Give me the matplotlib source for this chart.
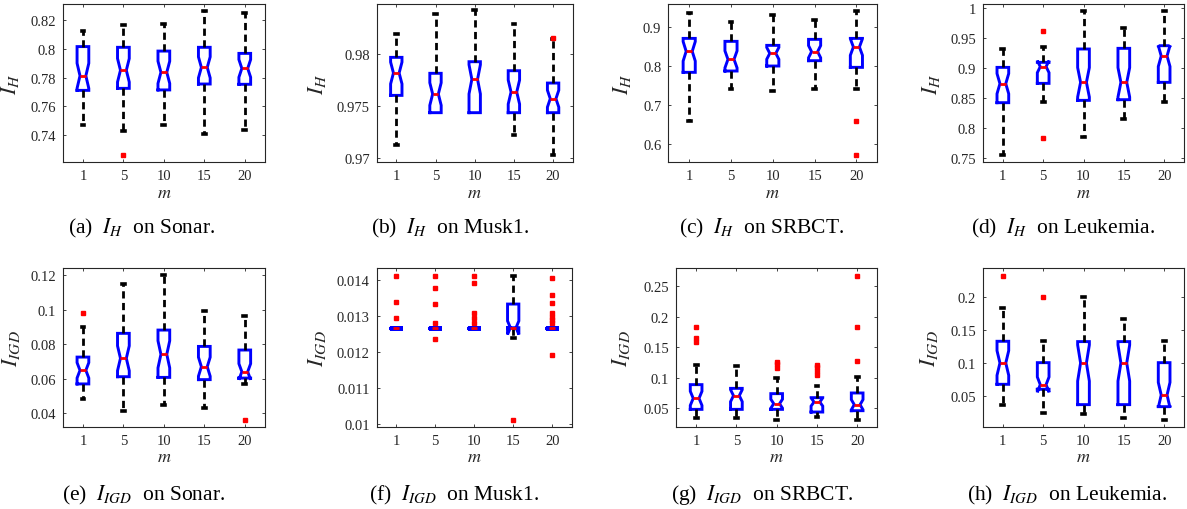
import numpy as np
import matplotlib
matplotlib.use("Agg")
import matplotlib.pyplot as plt
from matplotlib.ticker import FuncFormatter

plt.rcParams['font.family'] = ['Liberation Serif', 'DejaVu Serif']
plt.rcParams['mathtext.fontset'] = 'stix'

M_VALUES = ["1", "5", "10", "15", "20"]
N_RUNS = 30  # runs per box, used for the notch (1.57*IQR/sqrt(n))

# ---- (a) I_H on Sonar ----
a_whislo = [0.7474, 0.7430, 0.7472, 0.7412, 0.7437]
a_q1     = [0.7711, 0.7725, 0.7714, 0.7755, 0.7753]
a_med    = [0.7812, 0.7850, 0.7836, 0.7870, 0.7863]
a_q3     = [0.8014, 0.8009, 0.7983, 0.8009, 0.7967]
a_whishi = [0.8119, 0.8165, 0.8170, 0.8262, 0.8248]
a_fliers = [[], [0.7264], [], [], []]

# ---- (b) I_H on Musk1 ----
b_whislo = [0.97122, 0.97434, 0.97434, 0.97222, 0.97026]
b_q1     = [0.97601, 0.97434, 0.97434, 0.97434, 0.97434]
b_med    = [0.97817, 0.97614, 0.97756, 0.97633, 0.97569]
b_q3     = [0.97968, 0.97814, 0.97926, 0.97839, 0.97720]
b_whishi = [0.98190, 0.98386, 0.98424, 0.98289, 0.98141]
b_fliers = [[], [], [], [], [0.98158]]

# ---- (c) I_H on SRBCT ----
c_whislo = [0.6573, 0.7410, 0.7342, 0.7410, 0.7410]
c_q1     = [0.7829, 0.7863, 0.7991, 0.8128, 0.7957]
c_med    = [0.8368, 0.8162, 0.8316, 0.8359, 0.8479]
c_q3     = [0.8700, 0.8624, 0.8521, 0.8675, 0.8700]
c_whishi = [0.9350, 0.9120, 0.9308, 0.9162, 0.9410]
c_fliers = [[], [], [], [], [0.6573, 0.5709]]

# ---- (d) I_H on Leukemia ----
d_whislo = [0.7550, 0.8430, 0.7856, 0.8151, 0.8430]
d_q1     = [0.8424, 0.8747, 0.8463, 0.8474, 0.8764]
d_med    = [0.8742, 0.9026, 0.8764, 0.8764, 0.9204]
d_q3     = [0.9014, 0.9098, 0.9321, 0.9332, 0.9376]
d_whishi = [0.9321, 0.9360, 0.9955, 0.9671, 0.9955]
d_fliers = [[], [0.9627, 0.7834], [], [], []]

# ---- (e) I_IGD on Sonar ----
e_whislo = [0.0479, 0.0414, 0.0446, 0.0427, 0.0569]
e_q1     = [0.0569, 0.0611, 0.0607, 0.0594, 0.0603]
e_med    = [0.0648, 0.0718, 0.0741, 0.0669, 0.0640]
e_q3     = [0.0725, 0.0863, 0.0882, 0.0787, 0.0766]
e_whishi = [0.0898, 0.1150, 0.1200, 0.0991, 0.0962]
e_fliers = [[0.0979], [], [], [], [0.0359]]

# ---- (f) I_IGD on Musk1 ----
f_whislo = [0.012683, 0.012683, 0.012683, 0.012400, 0.012683]
f_q1     = [0.012683, 0.012683, 0.012683, 0.012683, 0.012683]
f_med    = [0.012683, 0.012683, 0.012683, 0.012683, 0.012683]
f_q3     = [0.012683, 0.012683, 0.012683, 0.013340, 0.012683]
f_whishi = [0.012683, 0.012683, 0.012683, 0.014120, 0.012683]
f_fliers = [[0.014120, 0.013397, 0.012953],
            [0.014120, 0.013778, 0.013350, 0.012806, 0.012360],
            [0.014120, 0.013917, 0.013092, 0.012944, 0.012814],
            [0.010120],
            [0.014056, 0.013590, 0.013360, 0.013090, 0.012970, 0.012897,
             0.012822, 0.011925]]

# ---- (g) I_IGD on SRBCT ----
g_whislo = [0.0330, 0.0330, 0.0308, 0.0352, 0.0303]
g_q1     = [0.0478, 0.0478, 0.0478, 0.0434, 0.0456]
g_med    = [0.0659, 0.0703, 0.0571, 0.0599, 0.0555]
g_q3     = [0.0884, 0.0823, 0.0736, 0.0670, 0.0747]
g_whishi = [0.1212, 0.1185, 0.0999, 0.0862, 0.1004]
g_fliers = [[0.1832, 0.1645, 0.1580], [], [0.1251, 0.1223, 0.1152],
            [0.1212, 0.1174, 0.1103, 0.1037], [0.2675, 0.1832, 0.1267]]

# ---- (h) I_IGD on Leukemia ----
h_whislo = [0.0363, 0.0241, 0.0220, 0.0159, 0.0129]
h_q1     = [0.0673, 0.0597, 0.0363, 0.0363, 0.0332]
h_med    = [0.0998, 0.0668, 0.0998, 0.0998, 0.0510]
h_q3     = [0.1329, 0.1003, 0.1324, 0.1324, 0.1003]
h_whishi = [0.1837, 0.1329, 0.2000, 0.1664, 0.1329]
h_fliers = [[0.2331], [0.2000], [], [], []]

panels = [
    dict(lo=a_whislo, q1=a_q1, med=a_med, q3=a_q3, hi=a_whishi, fl=a_fliers,
         ylim=(0.7213, 0.8311), yticks=[0.74, 0.76, 0.78, 0.80, 0.82],
         ylabel=r'$I_H$', cap=r'(a)  $I_H$  on Sonar.'),
    dict(lo=b_whislo, q1=b_q1, med=b_med, q3=b_q3, hi=b_whishi, fl=b_fliers,
         ylim=(0.96955, 0.98486), yticks=[0.970, 0.975, 0.980],
         ylabel=r'$I_H$', cap=r'(b)  $I_H$  on Musk1.'),
    dict(lo=c_whislo, q1=c_q1, med=c_med, q3=c_q3, hi=c_whishi, fl=c_fliers,
         ylim=(0.5521, 0.959), yticks=[0.6, 0.7, 0.8, 0.9],
         ylabel=r'$I_H$', cap=r'(c)  $I_H$  on SRBCT.'),
    dict(lo=d_whislo, q1=d_q1, med=d_med, q3=d_q3, hi=d_whishi, fl=d_fliers,
         ylim=(0.7428, 1.0078), yticks=[0.75, 0.8, 0.85, 0.9, 0.95, 1.0],
         ylabel=r'$I_H$', cap=r'(d)  $I_H$  on Leukemia.'),
    dict(lo=e_whislo, q1=e_q1, med=e_med, q3=e_q3, hi=e_whishi, fl=e_fliers,
         ylim=(0.03187, 0.1241), yticks=[0.04, 0.06, 0.08, 0.10, 0.12],
         ylabel=r'$I_{IGD}$', cap=r'(e)  $I_{IGD}$  on Sonar.'),
    dict(lo=f_whislo, q1=f_q1, med=f_med, q3=f_q3, hi=f_whishi, fl=f_fliers,
         ylim=(0.009926, 0.014333), yticks=[0.010, 0.011, 0.012, 0.013, 0.014],
         ylabel=r'$I_{IGD}$', cap=r'(f)  $I_{IGD}$  on Musk1.'),
    dict(lo=g_whislo, q1=g_q1, med=g_med, q3=g_q3, hi=g_whishi, fl=g_fliers,
         ylim=(0.0188, 0.2796), yticks=[0.05, 0.10, 0.15, 0.20, 0.25],
         ylabel=r'$I_{IGD}$', cap=r'(g)  $I_{IGD}$  on SRBCT.'),
    dict(lo=h_whislo, q1=h_q1, med=h_med, q3=h_q3, hi=h_whishi, fl=h_fliers,
         ylim=(0.00219, 0.2442), yticks=[0.05, 0.10, 0.15, 0.20],
         ylabel=r'$I_{IGD}$', cap=r'(h)  $I_{IGD}$  on Leukemia.'),
]

W, H = 1187, 510
# axes boxes in pixels: (left, top, right, bottom)
boxes_px = [
    (62.7, 4.7, 265.0, 163.3), (376.7, 4.7, 572.7, 163.3),
    (668.3, 4.7, 877.3, 163.3), (982.7, 4.7, 1184.3, 163.3),
    (62.7, 269.3, 265.0, 428.0), (376.7, 269.3, 571.7, 428.0),
    (676.0, 269.3, 877.3, 428.0), (982.7, 269.3, 1184.3, 428.0),
]
ylabel_x = [-0.206, -0.248, -0.169, -0.202, -0.201, -0.25, -0.219, -0.212]
caption_x = [142, 450, 762, 1063, 144, 454, 762, 1067]
caption_y = [228, 228, 228, 228, 495, 495, 495, 495]

GREY = '#262626'
fig = plt.figure(figsize=(W / 100, H / 100), dpi=100)
fmt = FuncFormatter(lambda v, p: '{:g}'.format(round(v, 6)))

for i, p in enumerate(panels):
    l, t, r, b = boxes_px[i]
    ax = fig.add_axes([l / W, 1 - b / H, (r - l) / W, (b - t) / H])
    stats = []
    for k in range(len(M_VALUES)):
        q1, med, q3 = p['q1'][k], p['med'][k], p['q3'][k]
        ci = 1.57 * (q3 - q1) / np.sqrt(N_RUNS)
        stats.append(dict(med=med, q1=q1, q3=q3, whislo=p['lo'][k],
                          whishi=p['hi'][k], fliers=p['fl'][k],
                          cilo=med - ci, cihi=med + ci, label=M_VALUES[k]))
    art = ax.bxp(stats, positions=np.arange(1, 6), widths=0.29, capwidths=0.07,
                 shownotches=True, patch_artist=False,
                 boxprops=dict(color='#0000ff', linewidth=2.1, solid_joinstyle='miter'),
                 whiskerprops=dict(color='k', linewidth=2.0, linestyle=(0, (2.6, 1.6))),
                 capprops=dict(color='k', linewidth=2.6),
                 medianprops=dict(color='#ff0000', linewidth=2.0),
                 flierprops=dict(marker='s', markersize=2.8, markerfacecolor='#ff0000',
                                 markeredgecolor='#ff0000', linestyle='none'))
    # hide zero-length whiskers and their caps
    for k in range(len(M_VALUES)):
        if p['lo'][k] == p['q1'][k]:
            art['caps'][2 * k].set_visible(False)
            art['whiskers'][2 * k].set_visible(False)
        if p['hi'][k] == p['q3'][k]:
            art['caps'][2 * k + 1].set_visible(False)
            art['whiskers'][2 * k + 1].set_visible(False)
        # collapsed boxes look like a thick blob in the original
        if p['q1'][k] == p['q3'][k]:
            art['boxes'][k].set_linewidth(3.4)
            art['boxes'][k].set_solid_capstyle('round')
    ax.set_xlim(0.5, 5.5)
    ax.set_ylim(*p['ylim'])
    ax.set_yticks(p['yticks'])
    ax.yaxis.set_major_formatter(fmt)
    ax.set_xticks(np.arange(1, 6))
    ax.set_xticklabels(M_VALUES)
    ax.tick_params(direction='in', top=True, right=True, length=2.5, width=0.6,
                   colors=GREY, labelsize=10.5, pad=5)
    for s in ax.spines.values():
        s.set_color(GREY)
        s.set_linewidth(0.8)
    ax.set_xlabel(r'$m$', fontsize=13, color=GREY, labelpad=1)
    ax.set_ylabel(p['ylabel'], fontsize=16, color=GREY)
    ax.yaxis.set_label_coords(ylabel_x[i], 0.5)
    fig.text(caption_x[i] / W, 1 - caption_y[i] / H, p['cap'], fontsize=15.5,
             ha='center', va='center', color='k')

fig.savefig('out.png', dpi=100)
